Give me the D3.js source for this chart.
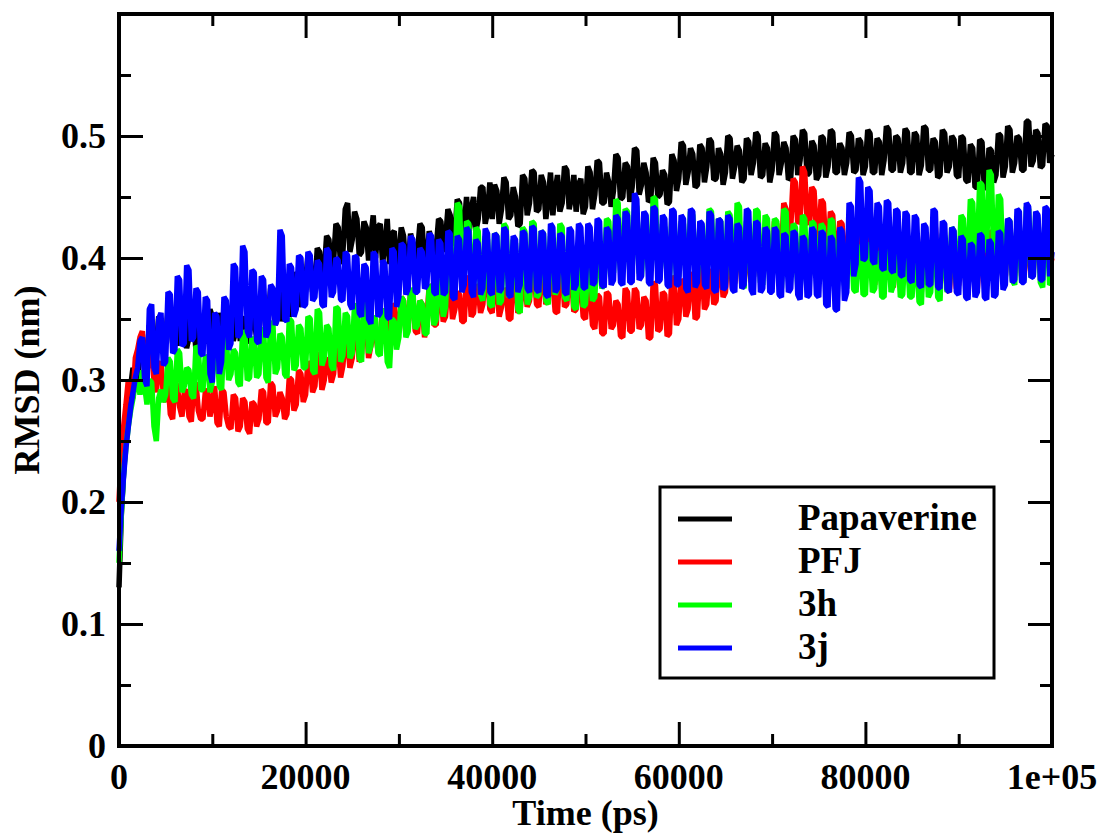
<!DOCTYPE html>
<html>
<head>
  <meta charset="utf-8">
  <title>RMSD vs time</title>
  <style>
    body { margin: 0; padding: 0; background: #ffffff; }
    svg text { font-family: 'Liberation Serif', 'Times New Roman', serif; font-weight: bold; fill: #000; }
    .trace { fill: none; stroke-width: 5.5; stroke-linejoin: bevel; }
  </style>
</head>
<body>
  <div id="chart"></div>
  <script src="https://d3js.org/d3.v7.min.js"></script>
  <script>

  // sampling step of the traces (ps), one row = 5000 ps
  var step = 250

  var papaverine = [
    0.130, 0.190, 0.225, 0.255, 0.275, 0.295, 0.310, 0.298, 0.300, 0.325, 0.335, 0.315, 0.318, 0.345, 0.340, 0.322, 0.325, 0.352, 0.348, 0.330,
    0.332, 0.358, 0.355, 0.330, 0.338, 0.362, 0.328, 0.348, 0.360, 0.326, 0.335, 0.356, 0.350, 0.324, 0.325, 0.350, 0.345, 0.330, 0.338, 0.358,
    0.352, 0.330, 0.335, 0.355, 0.345, 0.328, 0.330, 0.352, 0.358, 0.332, 0.340, 0.360, 0.332, 0.345, 0.352, 0.330, 0.338, 0.356, 0.348, 0.335,
    0.345, 0.368, 0.365, 0.340, 0.350, 0.375, 0.372, 0.345, 0.355, 0.378, 0.348, 0.370, 0.378, 0.352, 0.360, 0.388, 0.385, 0.360, 0.368, 0.392,
    0.380, 0.402, 0.398, 0.372, 0.375, 0.408, 0.405, 0.380, 0.390, 0.418, 0.415, 0.388, 0.398, 0.428, 0.425, 0.395, 0.405, 0.440, 0.445, 0.405,
    0.415, 0.438, 0.432, 0.402, 0.405, 0.430, 0.425, 0.398, 0.418, 0.435, 0.400, 0.425, 0.428, 0.396, 0.410, 0.432, 0.395, 0.420, 0.422, 0.392,
    0.400, 0.425, 0.418, 0.392, 0.395, 0.420, 0.412, 0.390, 0.405, 0.428, 0.425, 0.395, 0.398, 0.422, 0.415, 0.400, 0.408, 0.432, 0.430, 0.405,
    0.415, 0.440, 0.435, 0.410, 0.420, 0.448, 0.445, 0.415, 0.425, 0.450, 0.418, 0.440, 0.450, 0.422, 0.432, 0.458, 0.458, 0.428, 0.438, 0.462,
    0.432, 0.460, 0.455, 0.428, 0.440, 0.466, 0.462, 0.432, 0.435, 0.458, 0.450, 0.426, 0.428, 0.468, 0.465, 0.435, 0.445, 0.472, 0.470, 0.438,
    0.440, 0.468, 0.462, 0.432, 0.448, 0.470, 0.435, 0.455, 0.468, 0.438, 0.445, 0.475, 0.472, 0.440, 0.450, 0.468, 0.438, 0.460, 0.465, 0.436,
    0.442, 0.475, 0.470, 0.440, 0.452, 0.480, 0.478, 0.445, 0.445, 0.470, 0.462, 0.442, 0.455, 0.485, 0.482, 0.448, 0.450, 0.478, 0.475, 0.446,
    0.458, 0.490, 0.488, 0.452, 0.460, 0.478, 0.470, 0.446, 0.448, 0.482, 0.478, 0.450, 0.452, 0.472, 0.468, 0.444, 0.446, 0.485, 0.480, 0.455,
    0.465, 0.495, 0.492, 0.460, 0.470, 0.490, 0.485, 0.458, 0.460, 0.493, 0.490, 0.462, 0.475, 0.498, 0.495, 0.464, 0.465, 0.490, 0.485, 0.460,
    0.470, 0.500, 0.498, 0.465, 0.475, 0.492, 0.488, 0.462, 0.465, 0.498, 0.495, 0.468, 0.478, 0.503, 0.500, 0.466, 0.468, 0.494, 0.490, 0.462,
    0.472, 0.503, 0.500, 0.468, 0.478, 0.495, 0.490, 0.464, 0.466, 0.500, 0.497, 0.468, 0.480, 0.505, 0.502, 0.468, 0.470, 0.496, 0.492, 0.464,
    0.468, 0.500, 0.498, 0.466, 0.475, 0.505, 0.503, 0.470, 0.470, 0.494, 0.490, 0.468, 0.478, 0.503, 0.500, 0.470, 0.472, 0.498, 0.495, 0.468,
    0.475, 0.505, 0.502, 0.470, 0.470, 0.498, 0.495, 0.468, 0.480, 0.508, 0.505, 0.472, 0.472, 0.500, 0.498, 0.470, 0.478, 0.506, 0.503, 0.470,
    0.470, 0.503, 0.500, 0.468, 0.476, 0.508, 0.506, 0.472, 0.472, 0.498, 0.495, 0.466, 0.468, 0.505, 0.502, 0.470, 0.475, 0.500, 0.497, 0.468,
    0.466, 0.500, 0.498, 0.464, 0.462, 0.493, 0.490, 0.458, 0.458, 0.497, 0.495, 0.456, 0.460, 0.490, 0.488, 0.462, 0.468, 0.502, 0.500, 0.466,
    0.475, 0.508, 0.505, 0.470, 0.478, 0.500, 0.498, 0.472, 0.472, 0.512, 0.512, 0.475, 0.480, 0.505, 0.502, 0.474, 0.476, 0.510, 0.508, 0.478,
    0.485
  ]

  var pfj = [
    0.200, 0.240, 0.262, 0.280, 0.300, 0.292, 0.285, 0.318, 0.325, 0.335, 0.340, 0.312, 0.305, 0.328, 0.330, 0.298, 0.290, 0.312, 0.315, 0.288,
    0.282, 0.300, 0.272, 0.268, 0.298, 0.295, 0.278, 0.270, 0.290, 0.292, 0.270, 0.266, 0.295, 0.298, 0.275, 0.268, 0.268, 0.290, 0.292, 0.270,
    0.280, 0.295, 0.265, 0.262, 0.292, 0.290, 0.270, 0.262, 0.260, 0.288, 0.285, 0.258, 0.262, 0.285, 0.282, 0.260, 0.256, 0.282, 0.280, 0.262,
    0.268, 0.292, 0.290, 0.265, 0.265, 0.298, 0.295, 0.270, 0.275, 0.290, 0.285, 0.268, 0.272, 0.302, 0.300, 0.275, 0.280, 0.308, 0.305, 0.282,
    0.288, 0.315, 0.312, 0.290, 0.295, 0.322, 0.320, 0.292, 0.300, 0.318, 0.315, 0.298, 0.305, 0.330, 0.328, 0.302, 0.312, 0.335, 0.332, 0.310,
    0.318, 0.345, 0.342, 0.315, 0.322, 0.352, 0.350, 0.318, 0.328, 0.340, 0.338, 0.325, 0.332, 0.358, 0.355, 0.330, 0.336, 0.362, 0.360, 0.335,
    0.340, 0.368, 0.365, 0.338, 0.345, 0.372, 0.370, 0.340, 0.338, 0.365, 0.362, 0.335, 0.350, 0.378, 0.375, 0.345, 0.345, 0.375, 0.372, 0.348,
    0.352, 0.380, 0.378, 0.350, 0.358, 0.372, 0.370, 0.348, 0.348, 0.385, 0.382, 0.352, 0.355, 0.378, 0.375, 0.355, 0.362, 0.388, 0.385, 0.358,
    0.355, 0.384, 0.380, 0.352, 0.360, 0.375, 0.372, 0.350, 0.350, 0.388, 0.385, 0.355, 0.358, 0.380, 0.378, 0.360, 0.365, 0.392, 0.390, 0.362,
    0.360, 0.390, 0.388, 0.362, 0.368, 0.382, 0.380, 0.356, 0.355, 0.395, 0.392, 0.360, 0.362, 0.388, 0.385, 0.356, 0.358, 0.385, 0.380, 0.352,
    0.350, 0.378, 0.375, 0.345, 0.342, 0.370, 0.368, 0.338, 0.338, 0.372, 0.370, 0.342, 0.345, 0.365, 0.362, 0.336, 0.335, 0.375, 0.372, 0.340,
    0.340, 0.375, 0.372, 0.342, 0.345, 0.368, 0.365, 0.334, 0.335, 0.380, 0.378, 0.340, 0.342, 0.372, 0.370, 0.336, 0.338, 0.385, 0.382, 0.345,
    0.350, 0.382, 0.380, 0.352, 0.358, 0.388, 0.385, 0.350, 0.352, 0.392, 0.390, 0.358, 0.362, 0.390, 0.388, 0.362, 0.365, 0.398, 0.395, 0.368,
    0.372, 0.405, 0.402, 0.375, 0.380, 0.412, 0.410, 0.378, 0.378, 0.408, 0.405, 0.380, 0.385, 0.418, 0.415, 0.385, 0.388, 0.422, 0.420, 0.390,
    0.395, 0.430, 0.428, 0.398, 0.402, 0.445, 0.440, 0.415, 0.425, 0.465, 0.462, 0.428, 0.432, 0.475, 0.470, 0.430, 0.428, 0.458, 0.455, 0.420,
    0.412, 0.448, 0.445, 0.408, 0.405, 0.438, 0.435, 0.400, 0.398, 0.430, 0.428, 0.395, 0.395, 0.428, 0.425, 0.392, 0.390, 0.422, 0.420, 0.388,
    0.385, 0.418, 0.415, 0.382, 0.378, 0.412, 0.410, 0.380, 0.382, 0.420, 0.418, 0.378, 0.376, 0.410, 0.408, 0.378, 0.380, 0.415, 0.412, 0.378,
    0.378, 0.412, 0.410, 0.375, 0.372, 0.418, 0.415, 0.378, 0.380, 0.428, 0.425, 0.380, 0.376, 0.410, 0.408, 0.374, 0.372, 0.405, 0.402, 0.375,
    0.378, 0.412, 0.410, 0.380, 0.382, 0.418, 0.415, 0.378, 0.375, 0.410, 0.408, 0.380, 0.385, 0.422, 0.420, 0.384, 0.380, 0.415, 0.412, 0.382,
    0.385, 0.418, 0.415, 0.386, 0.388, 0.425, 0.422, 0.385, 0.382, 0.415, 0.412, 0.386, 0.390, 0.422, 0.420, 0.388, 0.386, 0.420, 0.418, 0.392,
    0.400
  ]

  var h3 = [
    0.150, 0.190, 0.225, 0.245, 0.262, 0.275, 0.285, 0.298, 0.300, 0.288, 0.308, 0.295, 0.280, 0.300, 0.298, 0.262, 0.250, 0.285, 0.292, 0.282,
    0.288, 0.318, 0.315, 0.285, 0.282, 0.325, 0.322, 0.290, 0.295, 0.310, 0.308, 0.288, 0.285, 0.328, 0.325, 0.292, 0.292, 0.320, 0.318, 0.290,
    0.298, 0.332, 0.330, 0.295, 0.292, 0.338, 0.335, 0.300, 0.305, 0.325, 0.322, 0.298, 0.295, 0.340, 0.338, 0.300, 0.302, 0.335, 0.332, 0.302,
    0.305, 0.342, 0.340, 0.302, 0.298, 0.348, 0.345, 0.305, 0.310, 0.338, 0.335, 0.305, 0.302, 0.350, 0.348, 0.308, 0.312, 0.345, 0.342, 0.310,
    0.310, 0.352, 0.350, 0.308, 0.305, 0.358, 0.355, 0.312, 0.318, 0.345, 0.342, 0.312, 0.308, 0.360, 0.358, 0.315, 0.320, 0.355, 0.352, 0.318,
    0.322, 0.362, 0.360, 0.318, 0.315, 0.368, 0.365, 0.322, 0.328, 0.352, 0.350, 0.322, 0.320, 0.358, 0.355, 0.315, 0.310, 0.350, 0.348, 0.325,
    0.335, 0.368, 0.365, 0.335, 0.340, 0.375, 0.372, 0.342, 0.345, 0.365, 0.362, 0.338, 0.338, 0.378, 0.375, 0.345, 0.350, 0.382, 0.380, 0.352,
    0.360, 0.405, 0.402, 0.372, 0.385, 0.445, 0.442, 0.388, 0.392, 0.430, 0.428, 0.380, 0.375, 0.425, 0.422, 0.370, 0.365, 0.418, 0.415, 0.362,
    0.360, 0.420, 0.418, 0.362, 0.365, 0.428, 0.425, 0.368, 0.372, 0.415, 0.412, 0.358, 0.355, 0.425, 0.422, 0.362, 0.368, 0.430, 0.428, 0.368,
    0.370, 0.422, 0.420, 0.365, 0.362, 0.418, 0.415, 0.370, 0.375, 0.428, 0.425, 0.368, 0.365, 0.412, 0.410, 0.360, 0.358, 0.405, 0.402, 0.360,
    0.362, 0.395, 0.392, 0.365, 0.368, 0.410, 0.408, 0.375, 0.380, 0.432, 0.430, 0.385, 0.388, 0.448, 0.445, 0.390, 0.392, 0.440, 0.438, 0.388,
    0.390, 0.445, 0.442, 0.388, 0.385, 0.432, 0.430, 0.390, 0.392, 0.450, 0.448, 0.390, 0.388, 0.428, 0.425, 0.384, 0.382, 0.435, 0.432, 0.385,
    0.385, 0.430, 0.428, 0.388, 0.392, 0.438, 0.435, 0.385, 0.382, 0.425, 0.422, 0.390, 0.395, 0.440, 0.438, 0.392, 0.388, 0.432, 0.430, 0.385,
    0.380, 0.438, 0.435, 0.385, 0.390, 0.445, 0.442, 0.380, 0.375, 0.430, 0.428, 0.382, 0.385, 0.440, 0.438, 0.380, 0.378, 0.435, 0.432, 0.380,
    0.382, 0.432, 0.430, 0.378, 0.375, 0.440, 0.438, 0.385, 0.388, 0.428, 0.425, 0.376, 0.372, 0.435, 0.432, 0.380, 0.385, 0.430, 0.428, 0.384,
    0.385, 0.428, 0.425, 0.380, 0.378, 0.432, 0.430, 0.382, 0.382, 0.420, 0.418, 0.378, 0.375, 0.415, 0.412, 0.374, 0.372, 0.410, 0.408, 0.370,
    0.370, 0.412, 0.410, 0.372, 0.375, 0.405, 0.402, 0.368, 0.368, 0.410, 0.408, 0.372, 0.378, 0.402, 0.400, 0.368, 0.370, 0.408, 0.405, 0.368,
    0.368, 0.400, 0.398, 0.364, 0.362, 0.410, 0.408, 0.368, 0.372, 0.418, 0.415, 0.368, 0.365, 0.420, 0.418, 0.372, 0.378, 0.425, 0.422, 0.380,
    0.385, 0.435, 0.432, 0.390, 0.398, 0.448, 0.445, 0.400, 0.405, 0.462, 0.460, 0.405, 0.410, 0.472, 0.468, 0.402, 0.398, 0.452, 0.448, 0.392,
    0.385, 0.432, 0.430, 0.382, 0.378, 0.428, 0.425, 0.380, 0.382, 0.442, 0.440, 0.384, 0.386, 0.435, 0.432, 0.380, 0.376, 0.428, 0.425, 0.378,
    0.380
  ]

  var j3 = [
    0.160, 0.195, 0.222, 0.245, 0.262, 0.278, 0.290, 0.302, 0.310, 0.332, 0.335, 0.300, 0.295, 0.358, 0.362, 0.310, 0.305, 0.350, 0.355, 0.312,
    0.315, 0.372, 0.370, 0.322, 0.325, 0.385, 0.382, 0.328, 0.330, 0.394, 0.390, 0.332, 0.335, 0.375, 0.372, 0.322, 0.320, 0.368, 0.365, 0.305,
    0.298, 0.355, 0.352, 0.305, 0.315, 0.368, 0.365, 0.325, 0.330, 0.395, 0.392, 0.335, 0.338, 0.410, 0.405, 0.340, 0.335, 0.390, 0.388, 0.332,
    0.330, 0.385, 0.382, 0.335, 0.340, 0.378, 0.375, 0.345, 0.350, 0.423, 0.418, 0.350, 0.348, 0.395, 0.392, 0.352, 0.358, 0.402, 0.400, 0.360,
    0.362, 0.405, 0.402, 0.365, 0.368, 0.398, 0.395, 0.362, 0.360, 0.408, 0.405, 0.368, 0.372, 0.400, 0.398, 0.366, 0.365, 0.405, 0.402, 0.362,
    0.358, 0.402, 0.400, 0.355, 0.352, 0.395, 0.392, 0.350, 0.346, 0.405, 0.402, 0.352, 0.355, 0.398, 0.395, 0.352, 0.350, 0.408, 0.405, 0.360,
    0.368, 0.412, 0.410, 0.370, 0.375, 0.418, 0.415, 0.372, 0.372, 0.408, 0.405, 0.375, 0.378, 0.420, 0.418, 0.372, 0.370, 0.415, 0.412, 0.370,
    0.372, 0.422, 0.420, 0.368, 0.366, 0.418, 0.415, 0.372, 0.378, 0.425, 0.422, 0.372, 0.368, 0.415, 0.412, 0.370, 0.375, 0.424, 0.420, 0.372,
    0.370, 0.420, 0.418, 0.372, 0.375, 0.425, 0.422, 0.370, 0.368, 0.418, 0.415, 0.372, 0.378, 0.422, 0.420, 0.375, 0.372, 0.426, 0.424, 0.374,
    0.372, 0.422, 0.420, 0.370, 0.368, 0.428, 0.425, 0.372, 0.375, 0.420, 0.418, 0.372, 0.370, 0.425, 0.422, 0.374, 0.378, 0.428, 0.425, 0.376,
    0.375, 0.428, 0.425, 0.378, 0.380, 0.432, 0.430, 0.378, 0.376, 0.425, 0.422, 0.378, 0.382, 0.435, 0.432, 0.380, 0.378, 0.438, 0.435, 0.380,
    0.380, 0.453, 0.448, 0.382, 0.385, 0.438, 0.435, 0.380, 0.378, 0.442, 0.440, 0.380, 0.382, 0.435, 0.432, 0.378, 0.376, 0.440, 0.438, 0.378,
    0.378, 0.435, 0.432, 0.375, 0.372, 0.440, 0.438, 0.376, 0.380, 0.430, 0.428, 0.378, 0.375, 0.438, 0.435, 0.374, 0.372, 0.432, 0.430, 0.374,
    0.376, 0.435, 0.432, 0.374, 0.372, 0.428, 0.425, 0.375, 0.378, 0.440, 0.438, 0.374, 0.370, 0.430, 0.428, 0.372, 0.375, 0.425, 0.422, 0.372,
    0.372, 0.425, 0.422, 0.370, 0.368, 0.420, 0.418, 0.372, 0.375, 0.422, 0.420, 0.370, 0.366, 0.418, 0.415, 0.368, 0.370, 0.425, 0.422, 0.370,
    0.368, 0.422, 0.420, 0.362, 0.360, 0.418, 0.415, 0.358, 0.357, 0.425, 0.422, 0.365, 0.372, 0.445, 0.442, 0.385, 0.395, 0.466, 0.462, 0.398,
    0.400, 0.458, 0.455, 0.398, 0.395, 0.445, 0.442, 0.392, 0.390, 0.447, 0.445, 0.390, 0.388, 0.440, 0.438, 0.386, 0.385, 0.438, 0.435, 0.382,
    0.380, 0.435, 0.432, 0.378, 0.376, 0.428, 0.425, 0.378, 0.378, 0.440, 0.438, 0.376, 0.375, 0.430, 0.428, 0.374, 0.372, 0.425, 0.422, 0.372,
    0.370, 0.418, 0.415, 0.368, 0.366, 0.412, 0.410, 0.368, 0.372, 0.420, 0.418, 0.368, 0.366, 0.415, 0.412, 0.368, 0.370, 0.422, 0.420, 0.374,
    0.378, 0.432, 0.430, 0.380, 0.382, 0.440, 0.438, 0.380, 0.380, 0.445, 0.442, 0.384, 0.385, 0.438, 0.435, 0.382, 0.382, 0.442, 0.440, 0.385,
    0.405
  ]

  var seriesNames = ["Papaverine", "PFJ", "3h", "3j"]
  var seriesColors = ["#000000", "#ff0000", "#00ff00", "#0000ff"]
  var seriesValues = [papaverine, pfj, h3, j3]

  var xTicks = [0, 20000, 40000, 60000, 80000, 100000]
  var xTickLabels = ["0", "20000", "40000", "60000", "80000", "1e+05"]
  var yTicks = [0, 0.1, 0.2, 0.3, 0.4, 0.5]
  var yTickLabels = ["0", "0.1", "0.2", "0.3", "0.4", "0.5"]

  var width = 1104,
      height = 836
  var margin = {left: 119, right: 52, top: 14, bottom: 90}

  var svg = d3.select("#chart").append("svg")
    .attr("width", width)
    .attr("height", height)

  var x = d3.scaleLinear().domain([0, 100000]).range([margin.left, width - margin.right])
  var y = d3.scaleLinear().domain([0, 0.6]).range([height - margin.bottom, margin.top])

  // traces, drawn in order so blue ends on top
  var line = d3.line()
    .x(function (d, i) { return x(i * step) })
    .y(function (d) { return y(d) })

  svg.append("g")
    .selectAll("path")
    .data(seriesValues)
    .enter().append("path")
    .attr("class", "trace")
    .attr("d", line)
    .attr("stroke", function (d, i) { return seriesColors[i] })

  // inward ticks on all four sides, like xmgrace
  var majorLen = 24, minorLen = 12
  var xMinor = d3.range(10000, 100000, 20000)
  var yMinor = [0.05, 0.15, 0.25, 0.35, 0.45, 0.55]

  function tickAxis(axis, tickSize, values) {
    return axis.tickValues(values).tickSize(tickSize).tickFormat("")
  }

  var x0 = x.range()[0], x1 = x.range()[1], y0 = y.range()[0], y1 = y.range()[1]

  var tickGroups = [
    [d3.axisTop(x), "translate(0," + y0 + ")", majorLen, xTicks],
    [d3.axisTop(x), "translate(0," + y0 + ")", minorLen, xMinor],
    [d3.axisBottom(x), "translate(0," + y1 + ")", majorLen, xTicks],
    [d3.axisBottom(x), "translate(0," + y1 + ")", minorLen, xMinor],
    [d3.axisRight(y), "translate(" + x0 + ",0)", majorLen, yTicks],
    [d3.axisRight(y), "translate(" + x0 + ",0)", minorLen, yMinor],
    [d3.axisLeft(y), "translate(" + x1 + ",0)", majorLen, yTicks],
    [d3.axisLeft(y), "translate(" + x1 + ",0)", minorLen, yMinor]
  ]
  tickGroups.forEach(function (t) {
    var g = svg.append("g").attr("transform", t[1]).call(tickAxis(t[0], t[2], t[3]))
    g.select(".domain").remove()
    g.selectAll("line").attr("stroke", "#000").attr("stroke-width", 3)
  })

  // frame
  svg.append("rect")
    .attr("x", x0).attr("y", y1)
    .attr("width", x1 - x0).attr("height", y0 - y1)
    .attr("fill", "none").attr("stroke", "#000").attr("stroke-width", 4)

  // tick labels
  svg.append("g").selectAll("text")
    .data(xTicks).enter().append("text")
    .attr("x", function (d) { return x(d) })
    .attr("y", y0 + 43)
    .attr("text-anchor", "middle")
    .style("font-size", "36px")
    .text(function (d, i) { return xTickLabels[i] })

  svg.append("g").selectAll("text")
    .data(yTicks).enter().append("text")
    .attr("x", x0 - 13)
    .attr("y", function (d) { return y(d) + 12 })
    .attr("text-anchor", "end")
    .style("font-size", "36px")
    .text(function (d, i) { return yTickLabels[i] })

  // axis titles
  svg.append("text")
    .attr("x", (x0 + x1) / 2)
    .attr("y", 825)
    .attr("text-anchor", "middle")
    .style("font-size", "36px")
    .text("Time (ps)")

  svg.append("text")
    .attr("transform", "translate(39," + ((y0 + y1) / 2) + ") rotate(-90)")
    .attr("text-anchor", "middle")
    .style("font-size", "36px")
    .text("RMSD (nm)")

  // legend
  var legend = svg.append("g").attr("transform", "translate(660,487)")
  legend.append("rect")
    .attr("width", 334).attr("height", 191)
    .attr("fill", "#fff").attr("stroke", "#000").attr("stroke-width", 3)

  var rows = legend.selectAll("g.row")
    .data(seriesNames).enter().append("g")
    .attr("transform", function (d, i) { return "translate(0," + (32 + i * 43) + ")" })

  rows.append("line")
    .attr("x1", 18).attr("x2", 72)
    .attr("stroke", function (d, i) { return seriesColors[i] })
    .attr("stroke-width", 5)

  rows.append("text")
    .attr("x", 138).attr("y", 11)
    .style("font-size", "37px")
    .text(function (d) { return d })

  </script>
</body>
</html>
